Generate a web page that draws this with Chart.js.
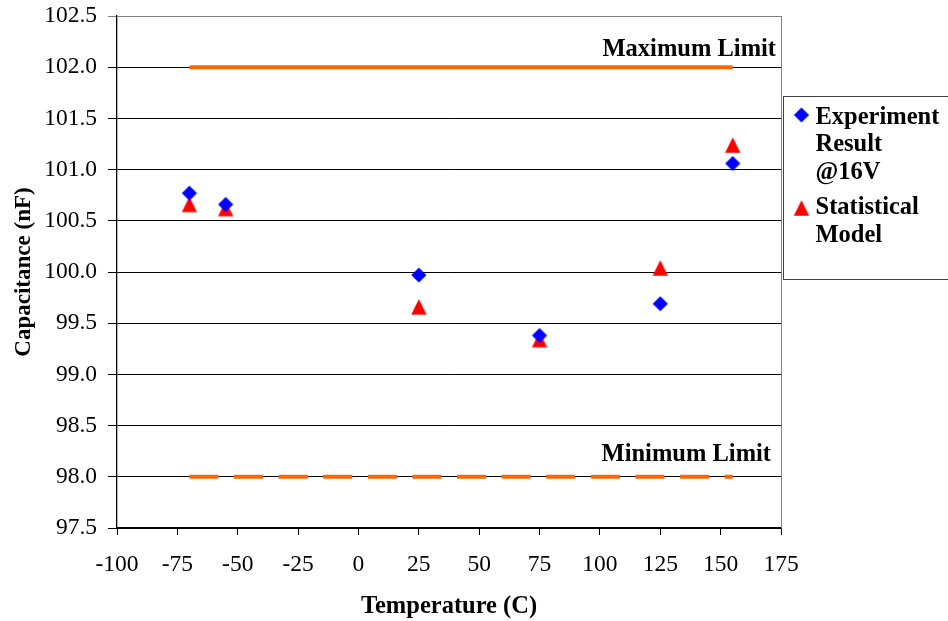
<!DOCTYPE html>
<html>
<head>
<meta charset="utf-8">
<script src="https://cdn.jsdelivr.net/npm/chart.js@4.4.1/dist/chart.umd.min.js"></script>
<style>
  html, body { margin: 0; padding: 0; background: #ffffff; }
  #wrap { width: 948px; height: 621px; position: relative; }
</style>
</head>
<body>
<div id="wrap"><canvas id="chart"></canvas></div>
<script>
// Measured capacitance vs. temperature
const temperatures = [-70, -55, 25, 75, 125, 155];
const experimentResult = [100.77, 100.66, 99.97, 99.38, 99.69, 101.06];
const statisticalModel = [100.66, 100.62, 99.66, 99.34, 100.04, 101.24];

// Specification limits and the temperature span they cover
const limitSpan = [-70, 155];
const maximumLimit = 102.0;
const minimumLimit = 98.0;

// Axis tick values
const xTickValues = [-100, -75, -50, -25, 0, 25, 50, 75, 100, 125, 150, 175];
const yTickValues = [97.5, 98.0, 98.5, 99.0, 99.5, 100.0, 100.5, 101.0, 101.5, 102.0, 102.5];

// Legend text, one entry per series, wrapped into lines
const legendEntries = [
  ['Experiment', 'Result', '@16V'],
  ['Statistical', 'Model']
];

const SERIF = '"Liberation Serif", "Times New Roman", Times, serif';
const BOLD_TEXT = 'bold 24.5px ' + SERIF;

function diamondMarker(color, r) {
  const s = Math.ceil(2 * r) + 2;
  const c = document.createElement('canvas');
  c.width = s; c.height = s;
  const g = c.getContext('2d');
  const m = s / 2;
  g.fillStyle = color;
  g.beginPath();
  g.moveTo(m, m - r); g.lineTo(m + r, m); g.lineTo(m, m + r); g.lineTo(m - r, m);
  g.closePath(); g.fill();
  return c;
}

function triangleMarker(color, w, h) {
  const s = Math.ceil(Math.max(w, h)) + 2;
  const c = document.createElement('canvas');
  c.width = s; c.height = s;
  const g = c.getContext('2d');
  const m = s / 2;
  g.fillStyle = color;
  g.beginPath();
  g.moveTo(m, m - h / 2); g.lineTo(m + w / 2, m + h / 2); g.lineTo(m - w / 2, m + h / 2);
  g.closePath(); g.fill();
  return c;
}

const blueDiamond = diamondMarker('#0000FF', 7.6);
const redTriangle = triangleMarker('#FF0000', 15.4, 15.6);

const toPoints = (xs, ys) => xs.map((x, i) => ({ x: x, y: ys[i] }));

// Plot frame edge, limit captions and the boxed legend
const decorations = {
  id: 'decorations',
  afterDraw(chart) {
    const { ctx, chartArea, scales } = chart;
    const ys = scales.y;
    ctx.save();

    // right edge of the plot area
    ctx.strokeStyle = '#808080';
    ctx.lineWidth = 1;
    ctx.beginPath();
    ctx.moveTo(Math.round(chartArea.right) + 0.5, chartArea.top);
    ctx.lineTo(Math.round(chartArea.right) + 0.5, chartArea.bottom);
    ctx.stroke();

    // limit captions
    ctx.fillStyle = '#000';
    ctx.font = BOLD_TEXT;
    ctx.textAlign = 'right';
    ctx.textBaseline = 'alphabetic';
    ctx.fillText('Maximum Limit', chartArea.right - 5, ys.getPixelForValue(maximumLimit) - 11);
    ctx.fillText('Minimum Limit', chartArea.right - 10, ys.getPixelForValue(minimumLimit) - 16);

    // legend box
    const lx = Math.round(chartArea.right) + 2.5;
    const ly = 96.5;
    ctx.strokeStyle = '#404040';
    ctx.strokeRect(lx, ly, 250, 183);

    const markers = [blueDiamond, redTriangle];
    const markerY = [115, 208];
    const firstBaseline = [123.5, 214];
    ctx.textAlign = 'left';
    legendEntries.forEach((lines, i) => {
      const m = markers[i];
      ctx.drawImage(m, lx + 18 - m.width / 2, markerY[i] - m.height / 2);
      lines.forEach((t, j) => {
        ctx.fillText(t, lx + 32, firstBaseline[i] + j * 27.7);
      });
    });
    ctx.restore();
  }
};

new Chart(document.getElementById('chart'), {
  type: 'scatter',
  data: {
    datasets: [
      {
        label: 'Maximum Limit',
        type: 'line',
        data: toPoints(limitSpan, [maximumLimit, maximumLimit]),
        borderColor: '#FF6600',
        borderWidth: 4,
        pointRadius: 0,
        fill: false
      },
      {
        label: 'Minimum Limit',
        type: 'line',
        data: toPoints(limitSpan, [minimumLimit, minimumLimit]),
        borderColor: '#FF6600',
        borderWidth: 4,
        borderDash: [29, 15.6],
        borderCapStyle: 'butt',
        pointRadius: 0,
        fill: false
      },
      {
        label: 'Experiment Result @16V',
        data: toPoints(temperatures, experimentResult),
        pointStyle: blueDiamond,
        pointRadius: 8,
        backgroundColor: '#0000FF',
        borderColor: '#0000FF'
      },
      {
        label: 'Statistical Model',
        data: toPoints(temperatures, statisticalModel),
        pointStyle: redTriangle,
        pointRadius: 8,
        backgroundColor: '#FF0000',
        borderColor: '#FF0000'
      }
    ]
  },
  options: {
    responsive: true,
    maintainAspectRatio: false,
    animation: false,
    events: [],
    layout: { padding: { top: 16, right: 167, left: 0, bottom: 0 } },
    plugins: {
      legend: { display: false },
      tooltip: { enabled: false }
    },
    scales: {
      x: {
        type: 'linear',
        min: xTickValues[0],
        max: xTickValues[xTickValues.length - 1],
        afterBuildTicks(scale) { scale.ticks = xTickValues.map(v => ({ value: v })); },
        afterFit(scale) { scale.height = 93; },
        ticks: {
          color: '#000',
          font: { family: SERIF, size: 23.5 },
          padding: 16,
          maxRotation: 0,
          callback: v => String(v)
        },
        grid: {
          drawOnChartArea: false,
          drawTicks: true,
          tickLength: 7,
          color: '#000',
          lineWidth: 1
        },
        border: { color: '#000', width: 1.3 },
        title: {
          display: true,
          text: 'Temperature (C)',
          color: '#000',
          font: { family: SERIF, size: 24.5, weight: 'bold' },
          padding: { top: 0, bottom: 0 }
        }
      },
      y: {
        type: 'linear',
        min: yTickValues[0],
        max: yTickValues[yTickValues.length - 1],
        afterBuildTicks(scale) { scale.ticks = yTickValues.map(v => ({ value: v })); },
        afterFit(scale) {
          scale.width = 117;
          scale.paddingTop = 0;
          scale.paddingBottom = 0;
        },
        ticks: {
          color: '#000',
          font: { family: SERIF, size: 23.5 },
          padding: 11,
          callback: v => Number(v).toFixed(1)
        },
        grid: {
          drawTicks: true,
          tickLength: 9,
          color: ctx => (ctx.tick && ctx.tick.value === yTickValues[yTickValues.length - 1]) ? '#808080' : '#000',
          lineWidth: 1
        },
        border: { color: '#000', width: 1.3 },
        title: {
          display: true,
          text: 'Capacitance (nF)',
          color: '#000',
          font: { family: SERIF, size: 23, weight: 'bold' },
          padding: { top: 10, bottom: 0 }
        }
      }
    }
  },
  plugins: [decorations]
});
</script>
</body>
</html>
